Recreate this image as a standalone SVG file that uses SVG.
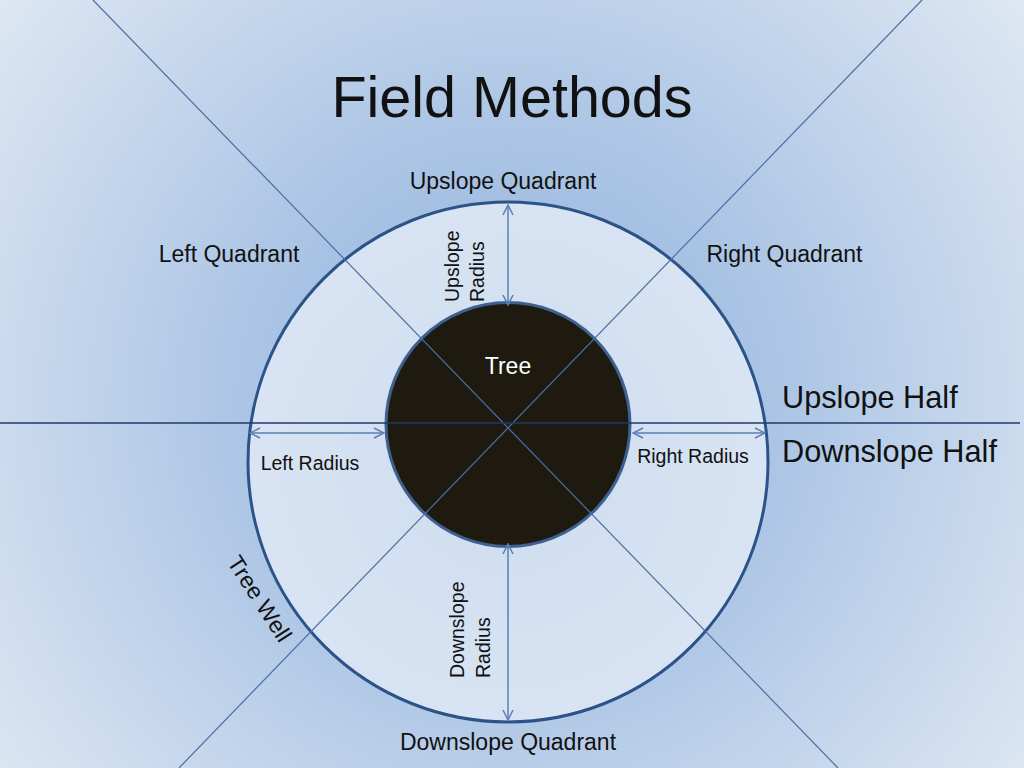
<svg xmlns="http://www.w3.org/2000/svg" width="1024" height="768" viewBox="0 0 1024 768">
  <defs>
    <radialGradient id="bg" cx="510" cy="400" r="680" gradientUnits="userSpaceOnUse">
      <stop offset="0" stop-color="#8fb0dc"/>
      <stop offset="0.45" stop-color="#b0c8e6"/>
      <stop offset="1" stop-color="#e2eaf4"/>
    </radialGradient>
    <radialGradient id="ring" cx="508" cy="462" r="260" gradientUnits="userSpaceOnUse">
      <stop offset="0" stop-color="#cddcef"/>
      <stop offset="1" stop-color="#d8e4f3"/>
    </radialGradient>
    <marker id="arr" viewBox="0 0 12 12" refX="11" refY="6" markerWidth="12" markerHeight="12" markerUnits="userSpaceOnUse" orient="auto-start-reverse">
      <path d="M1,1 L11,6 L1,11" fill="none" stroke="#5b7fb4" stroke-width="1.5"/>
    </marker>
  </defs>
  <style>
    text { font-family: "Liberation Sans", Arial, sans-serif; fill: #111; }
    .lbl { font-size: 23px; text-anchor: middle; }
    .sm { font-size: 19.5px; }
    .half { font-size: 30.7px; }
    .diag { stroke: #4a6fa6; stroke-width: 1.2; fill: none; }
    .hline { stroke: #1f3a6a; stroke-width: 1.5; fill: none; }
    .dim { stroke: #5b7fb4; stroke-width: 1.5; fill: none; marker-start: url(#arr); marker-end: url(#arr); }
  </style>

  <rect x="0" y="0" width="1024" height="768" fill="url(#bg)"/>

  <g id="title">
    <text x="512" y="117" style="font-size:57.5px;text-anchor:middle">Field Methods</text>
  </g>

  <g id="tree-well">
    <circle cx="508" cy="462" r="260" fill="url(#ring)" stroke="#2b5388" stroke-width="3"/>
  </g>

  <g id="tree">
    <circle cx="508" cy="424.5" r="122" fill="#1e1a0f" stroke="#3e6090" stroke-width="3"/>
  </g>

  <g id="connectors">
    <line class="diag" x1="93" y1="0" x2="838" y2="768"/>
    <line class="diag" x1="922" y1="0" x2="179" y2="768"/>
    <line class="hline" x1="0" y1="423" x2="1020" y2="423"/>
    <line class="dim" x1="508" y1="205" x2="508" y2="305"/>
    <line class="dim" x1="250" y1="433" x2="384" y2="433"/>
    <line class="dim" x1="633" y1="433" x2="765" y2="433"/>
    <line class="dim" x1="508" y1="544" x2="508" y2="720"/>
  </g>

  <g id="labels">
    <text class="lbl" x="503" y="189">Upslope Quadrant</text>
    <text class="lbl" x="229" y="262">Left Quadrant</text>
    <text class="lbl" x="784.5" y="262">Right Quadrant</text>
    <text class="lbl" x="508" y="750">Downslope Quadrant</text>
    <text x="508" y="374" style="font-size:23px;text-anchor:middle;fill:#ffffff">Tree</text>
    <text class="half" x="782" y="408">Upslope Half</text>
    <text class="half" x="782" y="462">Downslope Half</text>
    <text class="sm" x="310" y="470" text-anchor="middle">Left Radius</text>
    <text class="sm" x="693" y="463" text-anchor="middle">Right Radius</text>
    <text class="sm" transform="translate(459,302) rotate(-90)">Upslope</text>
    <text class="sm" transform="translate(484,302) rotate(-90)">Radius</text>
    <text class="sm" transform="translate(464,678) rotate(-90)">Downslope</text>
    <text class="sm" transform="translate(490,678) rotate(-90)">Radius</text>
    <text transform="translate(253,603) rotate(57)" style="font-size:23px;text-anchor:middle">Tree Well</text>
  </g>
</svg>
